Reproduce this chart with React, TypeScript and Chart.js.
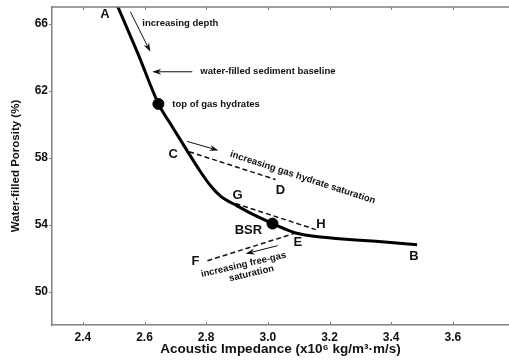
import React, { useEffect, useRef } from "react";
import { Chart, registerables } from "chart.js";

Chart.register(...registerables);

// ---- data ----
const curveX = [2.508, 2.579, 2.645, 2.69, 2.737, 2.78, 2.815, 2.85, 2.9, 2.95, 3.015, 3.05, 3.09, 3.15, 3.22, 3.35, 3.484];
const curveY = [67.25, 64.2, 61.21, 59.85, 58.45, 57.2, 56.3, 55.65, 55.12, 54.62, 54.06, 53.78, 53.5, 53.3, 53.17, 53.0, 52.8];

const dashCD_X = [2.745, 3.025];
const dashCD_Y = [58.35, 56.69];
const dashGH_X = [2.895, 3.155];
const dashGH_Y = [55.26, 53.7];
const dashFE_X = [2.804, 3.084];
const dashFE_Y = [51.84, 53.46];

const dotX = [2.645, 3.015];
const dotY = [61.21, 54.06];

const xTicks = [2.4, 2.6, 2.8, 3.0, 3.2, 3.4, 3.6];
const yTicks = [50, 54, 58, 62, 66];

const letterText = ["A", "B", "C", "D", "E", "F", "G", "H", "BSR"];
const letterX = [2.472, 3.474, 2.693, 3.041, 3.097, 2.765, 2.902, 3.172, 2.937];
const letterY = [66.54, 52.08, 58.19, 56.04, 52.92, 51.78, 55.74, 54.0, 53.64];

const noteText = ["increasing depth", "water-filled sediment baseline", "top of gas hydrates", "increasing gas hydrate saturation", "increasing free-gas", "saturation"];
const noteX = [2.593, 2.781, 2.69, 3.113, 2.921, 2.947];
const noteY = [66.0, 63.13, 61.21, 56.81, 51.6, 51.07];
const noteAlign = ["left", "left", "left", "center", "center", "center"];
const noteAngle = [0, 0, 0, 18, -13, -13];

const arrowX1 = [2.554, 2.755, 2.738, 3.032];
const arrowY1 = [66.72, 63.13, 58.97, 52.74];
const arrowX2 = [2.619, 2.625, 2.84, 2.928];
const arrowY2 = [64.32, 63.13, 58.43, 52.26];

const FONT = '"Liberation Sans", Arial, Helvetica, sans-serif';
const AXIS = "#808080";
const INK = "#111111";

const pts = (xs: number[], ys: number[]) => xs.map((v, i) => ({ x: v, y: ys[i] }));

export default function App() {
  const ref = useRef<HTMLCanvasElement | null>(null);

  useEffect(() => {
    if (!ref.current) return;

    const deco = {
      id: "deco",
      afterDatasetsDraw(chart: any) {
        const { ctx, chartArea } = chart;
        const xs = chart.scales.x;
        const ys = chart.scales.y;
        ctx.save();
        // top border
        ctx.strokeStyle = AXIS;
        ctx.lineWidth = 1.5;
        ctx.beginPath();
        ctx.moveTo(chartArea.left, chartArea.top);
        ctx.lineTo(chartArea.right, chartArea.top);
        ctx.stroke();
        // tick marks
        ctx.lineWidth = 1;
        xTicks.forEach((v) => {
          const px = Math.round(xs.getPixelForValue(v)) + 0.5;
          ctx.beginPath();
          ctx.moveTo(px, chartArea.top);
          ctx.lineTo(px, chartArea.top + 3);
          ctx.moveTo(px, chartArea.bottom);
          ctx.lineTo(px, chartArea.bottom - 3);
          ctx.stroke();
        });
        yTicks.forEach((v) => {
          const py = Math.round(ys.getPixelForValue(v)) + 0.5;
          ctx.beginPath();
          ctx.moveTo(chartArea.left - 3, py);
          ctx.lineTo(chartArea.left, py);
          ctx.stroke();
        });
        // arrows
        ctx.strokeStyle = INK;
        ctx.fillStyle = INK;
        arrowX1.forEach((_, i) => {
          const x1 = xs.getPixelForValue(arrowX1[i]);
          const y1 = ys.getPixelForValue(arrowY1[i]);
          const x2 = xs.getPixelForValue(arrowX2[i]);
          const y2 = ys.getPixelForValue(arrowY2[i]);
          const a = Math.atan2(y2 - y1, x2 - x1);
          const L = 9, W = 3;
          ctx.lineWidth = 1;
          ctx.beginPath();
          ctx.moveTo(x1, y1);
          ctx.lineTo(x2 - Math.cos(a) * L * 0.7, y2 - Math.sin(a) * L * 0.7);
          ctx.stroke();
          ctx.beginPath();
          ctx.moveTo(x2, y2);
          ctx.lineTo(x2 - Math.cos(a) * L - Math.sin(a) * W, y2 - Math.sin(a) * L + Math.cos(a) * W);
          ctx.lineTo(x2 - Math.cos(a) * L * 0.7, y2 - Math.sin(a) * L * 0.7);
          ctx.lineTo(x2 - Math.cos(a) * L + Math.sin(a) * W, y2 - Math.sin(a) * L - Math.cos(a) * W);
          ctx.closePath();
          ctx.fill();
        });
        // letter labels
        ctx.textBaseline = "middle";
        ctx.textAlign = "center";
        ctx.font = `bold 13px ${FONT}`;
        letterText.forEach((t, i) => {
          ctx.fillText(t, xs.getPixelForValue(letterX[i]), ys.getPixelForValue(letterY[i]));
        });
        // notes
        ctx.font = `bold 9.5px ${FONT}`;
        noteText.forEach((t, i) => {
          ctx.save();
          ctx.translate(xs.getPixelForValue(noteX[i]), ys.getPixelForValue(noteY[i]));
          ctx.rotate((noteAngle[i] * Math.PI) / 180);
          ctx.textAlign = noteAlign[i] as CanvasTextAlign;
          ctx.fillText(t, 0, 0);
          ctx.restore();
        });
        ctx.restore();
      },
    };

    const dashed = (xs: number[], ys: number[]) => ({
      data: pts(xs, ys),
      borderColor: INK,
      borderWidth: 1.5,
      borderDash: [5, 3],
      pointRadius: 0,
      fill: false,
    });

    const chart = new Chart(ref.current, {
      type: "line",
      data: {
        datasets: [
          {
            data: pts(curveX, curveY),
            borderColor: "#000",
            borderWidth: 3,
            pointRadius: 0,
            tension: 0.3,
            fill: false,
          } as any,
          dashed(dashCD_X, dashCD_Y),
          dashed(dashGH_X, dashGH_Y),
          dashed(dashFE_X, dashFE_Y),
          {
            data: pts(dotX, dotY),
            showLine: false,
            pointRadius: 5.5,
            pointBackgroundColor: "#000",
            pointBorderColor: "#000",
            borderColor: "#000",
          },
        ],
      },
      options: {
        responsive: false,
        animation: false,
        layout: { autoPadding: false, padding: { top: 7, right: 0, left: 0, bottom: 0 } },
        plugins: { legend: { display: false }, tooltip: { enabled: false } },
        events: [],
        scales: {
          x: {
            type: "linear",
            min: 2.3,
            max: 3.782,
            afterBuildTicks: (s: any) => {
              s.ticks = xTicks.map((v) => ({ value: v }));
            },
            afterFit: (s: any) => {
              s.height = 35;
              s.paddingLeft = 0;
              s.paddingRight = 0;
              s.paddingTop = 0;
              s.paddingBottom = 0;
            },
            grid: { display: false, drawTicks: false },
            border: { display: true, color: AXIS, width: 1.5 },
            ticks: {
              color: INK,
              padding: 5,
              maxRotation: 0,
              font: { family: FONT, size: 12, weight: "bold" },
              callback: (v: any) => Number(v).toFixed(1),
            },
            title: {
              display: true,
              text: "Acoustic Impedance (x10⁶ kg/m³·m/s)",
              color: INK,
              padding: { top: 0, bottom: 3 },
              font: { family: FONT, size: 13.5, weight: "bold" },
            },
          },
          y: {
            type: "linear",
            min: 48,
            max: 67,
            afterBuildTicks: (s: any) => {
              s.ticks = yTicks.map((v) => ({ value: v }));
            },
            afterFit: (s: any) => {
              s.width = 52;
              s.paddingLeft = 0;
              s.paddingRight = 0;
              s.paddingTop = 0;
              s.paddingBottom = 0;
            },
            grid: { display: false, drawTicks: false },
            border: { display: true, color: AXIS, width: 1.5 },
            ticks: {
              color: INK,
              padding: 4,
              font: { family: FONT, size: 12, weight: "bold" },
            },
            title: {
              display: true,
              text: "Water-filled Porosity (%)",
              color: INK,
              padding: { top: 9, bottom: 0 },
              font: { family: FONT, size: 11.5, weight: "bold" },
            },
          },
        },
      },
      plugins: [deco],
    } as any);

    return () => chart.destroy();
  }, []);

  return (
    <div style={{ position: "fixed", left: 0, top: 0, width: 509, height: 360, background: "#fff" }}>
      <canvas ref={ref} width={509} height={360} />
    </div>
  );
}
